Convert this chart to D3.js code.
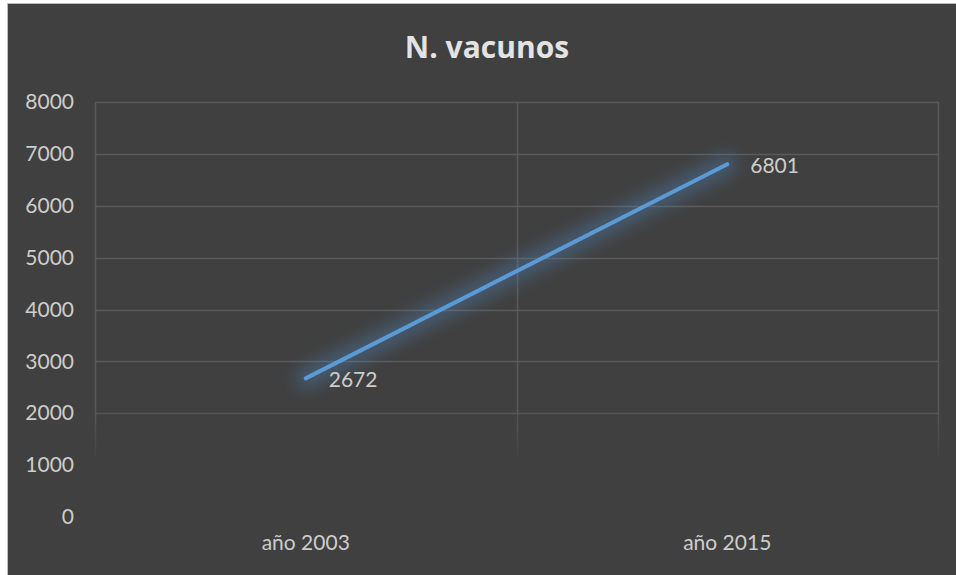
<!DOCTYPE html>
<html>
<head>
<meta charset="utf-8">
<script src="https://cdn.jsdelivr.net/npm/d3@7"></script>
<style>
  body { margin: 0; background: #ffffff; }
  svg { display: block; }
</style>
</head>
<body>
<div id="chart"></div>
<script>
// data
var categories = ["año 2003", "año 2015"];
var values = [2672, 6801];
var yTicks = [0, 1000, 2000, 3000, 4000, 5000, 6000, 7000, 8000];
var chartTitle = "N. vacunos";

var W = 956, H = 575;
var margin = {top: 102, right: 18, bottom: 58, left: 95};

var svg = d3.select("#chart").append("svg")
    .attr("width", W)
    .attr("height", H);

//background panel
svg.append("rect")
    .attr("x", 7.5).attr("y", 3.5)
    .attr("width", W).attr("height", H)
    .attr("fill", "#404040")
    .attr("stroke", "#bcbcbc");

var defs = svg.append("defs");

// glow for the line
var glow = defs.append("filter").attr("id", "glow")
    .attr("x", "-20%").attr("y", "-50%").attr("width", "140%").attr("height", "200%");
glow.append("feGaussianBlur").attr("stdDeviation", 8);

// gridlines fade out to the bottom
var fade = defs.append("linearGradient").attr("id", "gridFade")
    .attr("gradientUnits", "userSpaceOnUse")
    .attr("x1", 0).attr("y1", 405).attr("x2", 0).attr("y2", 462);
fade.append("stop").attr("offset", 0).attr("stop-color", "#5a5a5a");
fade.append("stop").attr("offset", 1).attr("stop-color", "#404040");

var x = d3.scaleBand()
    .domain(categories)
    .range([margin.left, W - margin.right])
    .padding(0);

var y = d3.scaleLinear()
    .domain([0, 8000])
    .range([H - margin.bottom, margin.top]);

// horizontal grid
svg.append("g").selectAll("line")
    .data(yTicks)
    .enter().append("line")
    .attr("x1", margin.left).attr("x2", W - margin.right)
    .attr("y1", function(d) { return Math.round(y(d)) + 0.5; })
    .attr("y2", function(d) { return Math.round(y(d)) + 0.5 + 0.001; })
    .attr("stroke", "url(#gridFade)")
    .attr("stroke-width", 1.5);

// vertical grid at category edges
var edges = categories.map(function(c) { return x(c); });
edges.push(x(categories[categories.length - 1]) + x.bandwidth());
svg.append("g").selectAll("line")
    .data(edges)
    .enter().append("line")
    .attr("x1", function(d) { return Math.round(d) + 0.5; })
    .attr("x2", function(d) { return Math.round(d) + 0.5 + 0.001; })
    .attr("y1", margin.top).attr("y2", H - margin.bottom)
    .attr("stroke", "url(#gridFade)")
    .attr("stroke-width", 1.5);

// y axis labels
var yAxis = d3.axisLeft(y).tickValues(yTicks).tickFormat(d3.format("d")).tickSize(0).tickPadding(21);
var yAxisGroup = svg.append("g")
    .attr("transform", "translate(" + margin.left + ",0)")
    .call(yAxis);
yAxisGroup.select(".domain").remove();
yAxisGroup.selectAll("text")
    .attr("fill", "#cdcdcd")
    .style("font-family", "Lato, 'Open Sans', sans-serif")
    .style("font-size", "21px");

// x axis labels
var xAxis = d3.axisBottom(x).tickSize(0).tickPadding(18);
var xAxisGroup = svg.append("g")
    .attr("transform", "translate(0," + (H - margin.bottom) + ")")
    .call(xAxis);
xAxisGroup.select(".domain").remove();
xAxisGroup.selectAll("text")
    .attr("fill", "#cdcdcd")
    .style("font-family", "Lato, 'Open Sans', sans-serif")
    .style("font-size", "21px");

var points = categories.map(function(c, i) {
    return {cat: c, val: values[i]};
});

var line = d3.line()
    .x(function(d) { return x(d.cat) + x.bandwidth() / 2; })
    .y(function(d) { return y(d.val); });

// glow
svg.append("path")
    .datum(points)
    .attr("d", line)
    .attr("fill", "none")
    .attr("stroke", "#4f8fd0")
    .attr("stroke-opacity", 0.35)
    .attr("stroke-width", 20)
    .attr("stroke-linecap", "round")
    .attr("filter", "url(#glow)");

svg.append("path")
    .datum(points)
    .attr("d", line)
    .attr("fill", "none")
    .attr("stroke", "#5b9bd5")
    .attr("stroke-width", 4)
    .attr("stroke-linecap", "round");

// data labels
svg.append("g").selectAll("text")
    .data(points)
    .enter().append("text")
    .attr("x", function(d) { return x(d.cat) + x.bandwidth() / 2 + 23; })
    .attr("y", function(d) { return y(d.val) + 9; })
    .attr("fill", "#cdcdcd")
    .style("font-family", "Lato, 'Open Sans', sans-serif")
    .style("font-size", "21px")
    .text(function(d) { return d.val; });

// title
svg.append("text")
    .attr("x", 487)
    .attr("y", 58)
    .attr("text-anchor", "middle")
    .attr("fill", "#e3e3e3")
    .style("font-family", "'Open Sans', sans-serif")
    .style("font-weight", "bold")
    .style("font-size", "30px")
    .text(chartTitle);
</script>
</body>
</html>
